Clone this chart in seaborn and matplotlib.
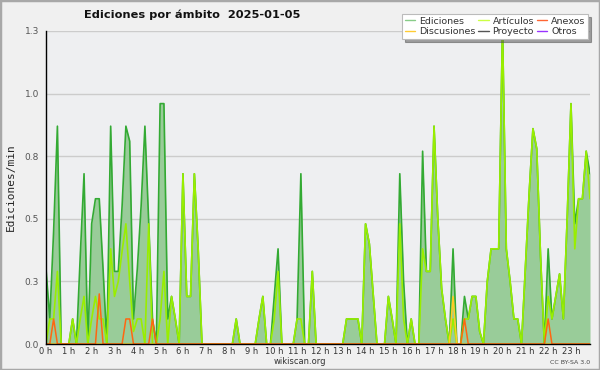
import numpy as np
import pandas as pd
import matplotlib
matplotlib.use("Agg")
import matplotlib.pyplot as plt
import seaborn as sns
from matplotlib.lines import Line2D
from matplotlib.patches import Rectangle
from matplotlib.ticker import FixedLocator, MultipleLocator

# ---- data (edits per minute, one value every 10 minutes) ----
ediciones = [
    0.30, 0.10, 0.45, 0.87, 0, 0, 0, 0.10, 0, 0.35, 0.68, 0, 0.48, 0.58, 0.58, 0.30,
    0, 0.87, 0.29, 0.29, 0.55, 0.87, 0.81, 0.10, 0.30, 0.55, 0.87, 0.48, 0.10, 0,
    0.96, 0.96, 0.10, 0.19, 0.10, 0, 0.68, 0.19, 0.19, 0.68, 0.38, 0,
    0, 0, 0, 0, 0, 0, 0, 0, 0.10, 0, 0, 0, 0, 0, 0.10, 0.19, 0, 0,
    0.19, 0.38, 0, 0, 0, 0, 0.10, 0.68, 0, 0, 0.29, 0, 0, 0, 0, 0, 0, 0,
    0, 0.10, 0.10, 0.10, 0.10, 0, 0.48, 0.40, 0.20, 0, 0, 0, 0.19, 0.10, 0,
    0.68, 0.25, 0, 0.10, 0, 0, 0.77, 0.29, 0.29, 0.87, 0.50, 0.22, 0.10, 0,
    0.38, 0, 0, 0.19, 0.10, 0.19, 0.19, 0.05, 0, 0.25, 0.38, 0.38, 0.38,
    1.27, 0.38, 0.25, 0.10, 0.10, 0, 0.30, 0.60, 0.86, 0.78, 0.35, 0,
    0.38, 0.10, 0.19, 0.28, 0.10, 0.50, 0.96, 0.48, 0.58, 0.58, 0.77, 0.68,
]
articulos = [
    0, 0.10, 0.10, 0.29, 0, 0, 0, 0.10, 0, 0.10, 0.19, 0, 0.10, 0.19, 0.10, 0.10,
    0, 0.38, 0.19, 0.25, 0.37, 0.48, 0.25, 0.05, 0.10, 0.10, 0, 0.48, 0, 0,
    0.10, 0.29, 0, 0.19, 0.10, 0, 0.68, 0.19, 0.19, 0.68, 0.38, 0,
    0, 0, 0, 0, 0, 0, 0, 0, 0.10, 0, 0, 0, 0, 0, 0.10, 0.19, 0, 0,
    0.10, 0.29, 0, 0, 0, 0, 0.10, 0.10, 0, 0, 0.29, 0, 0, 0, 0, 0, 0, 0,
    0, 0.10, 0.10, 0.10, 0.10, 0, 0.48, 0.40, 0.20, 0, 0, 0, 0.19, 0.10, 0,
    0.48, 0.10, 0, 0.10, 0, 0, 0.38, 0.29, 0.29, 0.87, 0.50, 0.22, 0.10, 0,
    0.10, 0, 0, 0.10, 0.10, 0.19, 0.19, 0.05, 0, 0.25, 0.38, 0.38, 0.38,
    1.27, 0.38, 0.25, 0.10, 0.10, 0, 0.30, 0.60, 0.86, 0.78, 0.35, 0,
    0.19, 0.10, 0.19, 0.28, 0.10, 0.50, 0.96, 0.38, 0.58, 0.58, 0.77, 0.58,
]
anexos_idx = [2, 14, 21, 22, 28, 110, 132]
anexos_val = [0.10, 0.20, 0.10, 0.10, 0.10, 0.10, 0.10]
discusiones_idx = [107]
discusiones_val = [0.19]
hour_labels = [f"{h} h" for h in range(24)]
ytick_vals = [0, 0.25, 0.5, 0.75, 1.0, 1.25]
ytick_labels = ["0.0", "0.3", "0.5", "0.8", "1.0", "1.3"]

n = len(ediciones)
t = np.arange(n) / 6.0
anexos = np.zeros(n)
anexos[anexos_idx] = anexos_val
discusiones = np.zeros(n)
discusiones[discusiones_idx] = discusiones_val

df = pd.DataFrame({"t": t, "Ediciones": ediciones, "Artículos": articulos,
                   "Anexos": anexos, "Discusiones": discusiones})

sns.set_style("white")
plt.rcParams["font.family"] = ["DejaVu Sans"]

fig = plt.figure(figsize=(6, 3.7), dpi=100)
fig.patch.set_facecolor("#f0f0f0")
fig.patches.append(Rectangle((0, 0), 1, 1, transform=fig.transFigure,
                             fill=False, edgecolor="#a8a8a8", linewidth=2.5))

ax = fig.add_axes([46/600, 1-344/370, 544/600, 313/370])
ax.set_facecolor("#eeeff1")

ax.fill_between(df["t"], df["Ediciones"], color="#99cc99", linewidth=0, zorder=2)
sns.lineplot(data=df, x="t", y="Ediciones", ax=ax, color="#33aa33", linewidth=1.2, zorder=3)
sns.lineplot(data=df, x="t", y="Artículos", ax=ax, color="#99ee00", linewidth=1.2, zorder=4)
sns.lineplot(data=df, x="t", y="Discusiones", ax=ax, color="#ffcc22", linewidth=1.1, zorder=5)
sns.lineplot(data=df, x="t", y="Anexos", ax=ax, color="#ff6611", linewidth=1.1, zorder=6)

ax.set_xlim(0, t[-1])
ax.set_ylim(0, 1.25)
ax.set_xlabel("")
ax.set_ylabel("Ediciones/min", family="DejaVu Sans Mono", fontsize=8, labelpad=6)

ax.xaxis.set_major_locator(FixedLocator(list(range(24))))
ax.set_xticklabels(hour_labels)
ax.xaxis.set_minor_locator(MultipleLocator(1/6))
ax.yaxis.set_major_locator(FixedLocator(ytick_vals))
ax.set_yticklabels(ytick_labels)
ax.yaxis.set_minor_locator(MultipleLocator(0.25/6))
ax.tick_params(axis="x", which="both", direction="out", length=2.5, width=0.8,
               color="black", labelsize=6, labelcolor="#333333", pad=0)
ax.tick_params(axis="y", which="major", direction="out", length=4, width=0.8,
               color="black", labelsize=6.5, labelcolor="#555555", pad=1)
ax.tick_params(axis="y", which="minor", direction="out", length=3, width=0.8, color="black")
ax.grid(axis="y", which="major", color="#cccccc", linewidth=1, zorder=1)
ax.set_axisbelow(True)
for s in ["top", "right"]:
    ax.spines[s].set_visible(False)
for s in ["left", "bottom"]:
    ax.spines[s].set_color("black")
    ax.spines[s].set_linewidth(1)
    ax.spines[s].set_zorder(10)

fig.text(84/600, 1-15/370, "Ediciones por ámbito  2025-01-05", fontsize=8.2,
         fontweight="bold", va="center", ha="left", color="#111111")
fig.text(300/600, 1-362/370, "wikiscan.org", fontsize=6, ha="center", va="center", color="#333333")
fig.text(590/600, 1-362/370, "CC BY-SA 3.0", fontsize=4.5, ha="right", va="center", color="#444444")

handles = [
    Line2D([], [], color="#88cc88", lw=1),
    Line2D([], [], color="#ffcc33", lw=1),
    Line2D([], [], color="#ccff44", lw=1),
    Line2D([], [], color="#555555", lw=1),
    Line2D([], [], color="#ff6633", lw=1),
    Line2D([], [], color="#9933ff", lw=1),
]
labels = ["Ediciones", "Discusiones", "Artículos", "Proyecto", "Anexos", "Otros"]
leg = fig.legend(handles, labels, ncol=3, loc="upper right",
                 bbox_to_anchor=(593/600, 1-9/370), fontsize=6.8,
                 handlelength=1.1, handletextpad=0.4, columnspacing=0.3,
                 labelspacing=0.2, borderpad=0.3, fancybox=False, shadow=True,
                 frameon=True, framealpha=1)
leg.get_frame().set_edgecolor("#bbbbbb")
leg.get_frame().set_facecolor("white")
leg.get_frame().set_linewidth(0.8)
for txt in leg.get_texts():
    txt.set_color("#333333")

fig.savefig("out.png", dpi=100, facecolor=fig.get_facecolor())
